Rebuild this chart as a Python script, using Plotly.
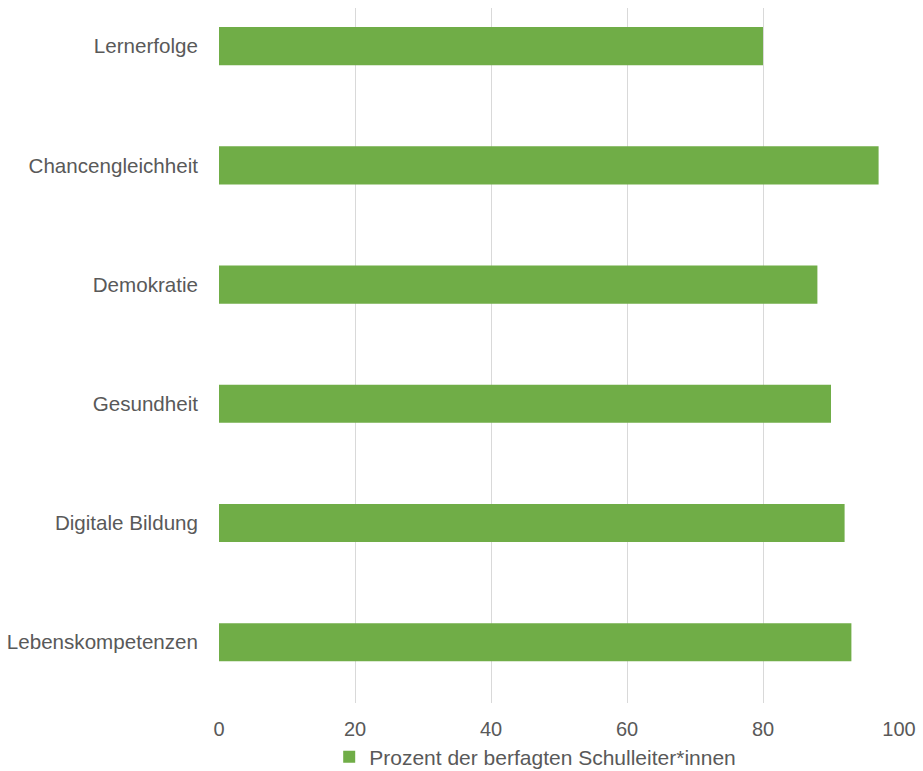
import plotly.graph_objects as go

categories = ["Lebenskompetenzen", "Digitale Bildung", "Gesundheit", "Demokratie", "Chancengleichheit", "Lernerfolge"]
values = [93, 92, 90, 88, 97, 80]
series_name = "Prozent der berfagten Schulleiter*innen"
x_ticks = [0, 20, 40, 60, 80, 100]

GREEN = "#70AD47"
TEXT = "#595959"
GRID = "#D9D9D9"
FONT = "Liberation Sans"

fig = go.Figure()
fig.add_trace(go.Bar(
    y=categories, x=values, orientation="h", name=series_name,
    marker=dict(color=GREEN, line=dict(width=0)), width=0.32,
    showlegend=True,
))

fig.update_layout(
    width=923, height=771,
    margin=dict(l=219, r=24, t=8, b=68, autoexpand=False),
    paper_bgcolor="white", plot_bgcolor="white",
    font=dict(family=FONT, size=20, color=TEXT),
    showlegend=True,
    legend=dict(orientation="h", x=0.465, xanchor="center", y=-0.078, yanchor="middle",
                font=dict(family=FONT, size=21, color=TEXT), itemwidth=30),
    xaxis=dict(range=[0, 100], tickvals=x_ticks, showgrid=True, gridcolor=GRID, gridwidth=1,
               zeroline=False, showline=False, ticks="", ticklabelstandoff=12,
               tickfont=dict(family=FONT, size=20, color=TEXT), fixedrange=True),
    yaxis=dict(range=[-0.51, 5.32], categoryorder="array", categoryarray=categories,
               showgrid=False, zeroline=False, showline=False, ticks="",
               ticklabelstandoff=20, tickfont=dict(family=FONT, size=20.6, color=TEXT)),
)

fig.write_html("out.html")
